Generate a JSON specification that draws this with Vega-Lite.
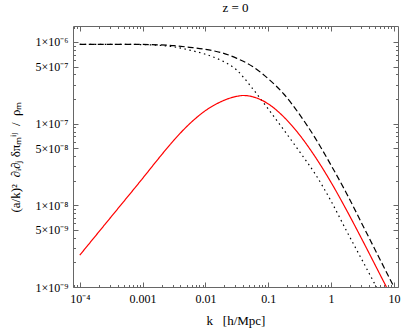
{
  "$schema": "https://vega.github.io/schema/vega-lite/v6.json",
  "width": 325,
  "height": 261,
  "autosize": {"type": "none"},
  "padding": {"left": 73, "top": 26, "right": 7, "bottom": 44},
  "title": {"text": "z = 0", "font": "Liberation Serif", "fontSize": 13, "fontWeight": "normal", "color": "black", "offset": 11, "anchor": "middle"},
  "config": {
    "view": {"stroke": "#666", "strokeWidth": 1},
    "axis": {"labelFont": "Liberation Serif", "titleFont": "Liberation Serif", "labelFontSize": 12, "titleFontSize": 13, "labelColor": "black", "titleColor": "black", "titleFontWeight": "normal", "domain": false, "grid": false, "tickColor": "#666", "tickWidth": 1, "labelFlush": false, "labelOverlap": false, "labelBound": false}
  },
  "data": {"values": [
    {"k": 0.0001, "v": 9.376e-7, "s": "dashed"},
    {"k": 0.00031623, "v": 9.376e-7, "s": "dashed"},
    {"k": 0.001, "v": 9.333e-7, "s": "dashed"},
    {"k": 0.0017783, "v": 9.226e-7, "s": "dashed"},
    {"k": 0.0031623, "v": 9.016e-7, "s": "dashed"},
    {"k": 0.0056234, "v": 8.61e-7, "s": "dashed"},
    {"k": 0.01, "v": 8.128e-7, "s": "dashed"},
    {"k": 0.017783, "v": 7.413e-7, "s": "dashed"},
    {"k": 0.031623, "v": 6.31e-7, "s": "dashed"},
    {"k": 0.056234, "v": 5.012e-7, "s": "dashed"},
    {"k": 0.1, "v": 3.548e-7, "s": "dashed"},
    {"k": 0.17783, "v": 2.291e-7, "s": "dashed"},
    {"k": 0.31623, "v": 1.288e-7, "s": "dashed"},
    {"k": 0.56234, "v": 6.607e-8, "s": "dashed"},
    {"k": 1, "v": 3.09e-8, "s": "dashed"},
    {"k": 1.7783, "v": 1.38e-8, "s": "dashed"},
    {"k": 3.1623, "v": 5.754e-9, "s": "dashed"},
    {"k": 5.6234, "v": 2.399e-9, "s": "dashed"},
    {"k": 10, "v": 1e-9, "s": "dashed"},
    {"k": 0.0001, "v": 9.376e-7, "s": "dotted"},
    {"k": 0.00031623, "v": 9.376e-7, "s": "dotted"},
    {"k": 0.001, "v": 9.29e-7, "s": "dotted"},
    {"k": 0.0017783, "v": 9.12e-7, "s": "dotted"},
    {"k": 0.0031623, "v": 8.71e-7, "s": "dotted"},
    {"k": 0.0056234, "v": 7.943e-7, "s": "dotted"},
    {"k": 0.01, "v": 7.079e-7, "s": "dotted"},
    {"k": 0.017783, "v": 5.957e-7, "s": "dotted"},
    {"k": 0.023714, "v": 5.309e-7, "s": "dotted"},
    {"k": 0.031623, "v": 4.519e-7, "s": "dotted"},
    {"k": 0.04217, "v": 3.548e-7, "s": "dotted"},
    {"k": 0.056234, "v": 2.692e-7, "s": "dotted"},
    {"k": 0.1, "v": 1.514e-7, "s": "dotted"},
    {"k": 0.17783, "v": 8.318e-8, "s": "dotted"},
    {"k": 0.31623, "v": 4.519e-8, "s": "dotted"},
    {"k": 0.56234, "v": 2.399e-8, "s": "dotted"},
    {"k": 1, "v": 1.122e-8, "s": "dotted"},
    {"k": 1.7783, "v": 4.786e-9, "s": "dotted"},
    {"k": 3.1623, "v": 2.089e-9, "s": "dotted"},
    {"k": 5.248, "v": 1e-9, "s": "dotted"},
    {"k": 0.0001, "v": 2.455e-9, "s": "red"},
    {"k": 0.00031623, "v": 7.244e-9, "s": "red"},
    {"k": 0.001, "v": 2.138e-8, "s": "red"},
    {"k": 0.0017783, "v": 3.715e-8, "s": "red"},
    {"k": 0.0031623, "v": 6.31e-8, "s": "red"},
    {"k": 0.0056234, "v": 1e-7, "s": "red"},
    {"k": 0.01, "v": 1.445e-7, "s": "red"},
    {"k": 0.017783, "v": 1.862e-7, "s": "red"},
    {"k": 0.031623, "v": 2.163e-7, "s": "red"},
    {"k": 0.039811, "v": 2.213e-7, "s": "red"},
    {"k": 0.056234, "v": 2.138e-7, "s": "red"},
    {"k": 0.1, "v": 1.746e-7, "s": "red"},
    {"k": 0.17783, "v": 1.202e-7, "s": "red"},
    {"k": 0.31623, "v": 7.244e-8, "s": "red"},
    {"k": 0.56234, "v": 3.89e-8, "s": "red"},
    {"k": 1, "v": 1.905e-8, "s": "red"},
    {"k": 1.7783, "v": 8.61e-9, "s": "red"},
    {"k": 3.1623, "v": 3.715e-9, "s": "red"},
    {"k": 5.6234, "v": 1.567e-9, "s": "red"},
    {"k": 7.586, "v": 1e-9, "s": "red"}
  ]},
  "resolve": {"axis": {"x": "independent", "y": "independent"}},
  "layer": [
    {
      "mark": {"type": "line", "clip": true, "interpolate": "monotone", "strokeWidth": 1.2, "strokeCap": "butt"},
      "encoding": {
        "x": {"field": "k", "type": "quantitative", "scale": {"type": "log", "domain": [7.8e-5, 11.6], "nice": false},
          "axis": {"orient": "bottom", "ticks": false, "labelPadding": 6, "values": [0.0001, 0.001, 0.01, 0.1, 1, 10],
            "labelExpr": "datum.value < 0.0005 ? '10⁻⁴' : datum.value < 0.005 ? '0.001' : datum.value < 0.05 ? '0.01' : datum.value < 0.5 ? '0.1' : datum.value < 5 ? '1' : '10'",
            "title": "k\u00a0\u00a0\u00a0[h/Mpc]", "titlePadding": 10}},
        "y": {"field": "v", "type": "quantitative", "scale": {"type": "log", "domain": [1e-9, 1.57e-6], "nice": false},
          "axis": {"orient": "left", "ticks": false, "labelPadding": 5, "values": [1e-9, 5e-9, 1e-8, 5e-8, 1e-7, 5e-7, 1e-6],
            "labelExpr": "datum.value == 1e-6 ? '1×10⁻⁶' : datum.value == 5e-7 ? '5×10⁻⁷' : datum.value == 1e-7 ? '1×10⁻⁷' : datum.value == 5e-8 ? '5×10⁻⁸' : datum.value == 1e-8 ? '1×10⁻⁸' : datum.value == 5e-9 ? '5×10⁻⁹' : '1×10⁻⁹'",
            "title": "(a/k)²\u00a0\u00a0∂ᵢ∂ⱼ\u00a0δπₘⁱʲ\u00a0\u00a0/\u00a0\u00a0ρₘ", "titlePadding": 13}},
        "color": {"field": "s", "type": "nominal", "scale": {"domain": ["dashed", "dotted", "red"], "range": ["#000000", "#000000", "#ff0000"]}, "legend": null},
        "strokeDash": {"field": "s", "type": "nominal", "scale": {"domain": ["dashed", "dotted", "red"], "range": [[6, 3], [1.5, 3.5], [1, 0]]}, "legend": null}
      }
    },
    {
      "mark": {"type": "point", "opacity": 0},
      "encoding": {
        "x": {"field": "k", "type": "quantitative", "scale": {"type": "log", "domain": [7.8e-5, 11.6], "nice": false},
          "axis": {"orient": "bottom", "labels": false, "tickSize": -5, "values": [0.0001, 0.001, 0.01, 0.1, 1, 10], "title": null}},
        "y": {"field": "v", "type": "quantitative", "scale": {"type": "log", "domain": [1e-9, 1.57e-6], "nice": false},
          "axis": {"orient": "left", "labels": false, "tickSize": -5, "values": [1e-9, 5e-9, 1e-8, 5e-8, 1e-7, 5e-7, 1e-6], "title": null}}
      }
    },
    {
      "mark": {"type": "point", "opacity": 0},
      "encoding": {
        "x": {"field": "k", "type": "quantitative", "scale": {"type": "log", "domain": [7.8e-5, 11.6], "nice": false},
          "axis": {"orient": "bottom", "labels": false, "tickSize": -2.5, "values": [8e-5, 9e-5, 0.0002, 0.0003, 0.0004, 0.0005, 0.0006, 0.0007, 0.0008, 0.0009, 0.002, 0.003, 0.004, 0.005, 0.006, 0.007, 0.008, 0.009, 0.02, 0.03, 0.04, 0.05, 0.06, 0.07, 0.08, 0.09, 0.2, 0.3, 0.4, 0.5, 0.6, 0.7, 0.8, 0.9, 2, 3, 4, 5, 6, 7, 8, 9], "title": null}},
        "y": {"field": "v", "type": "quantitative", "scale": {"type": "log", "domain": [1e-9, 1.57e-6], "nice": false},
          "axis": {"orient": "left", "labels": false, "tickSize": -2.5, "values": [2e-9, 3e-9, 4e-9, 6e-9, 7e-9, 8e-9, 9e-9, 2e-8, 3e-8, 4e-8, 6e-8, 7e-8, 8e-8, 9e-8, 2e-7, 3e-7, 4e-7, 6e-7, 7e-7, 8e-7, 9e-7], "title": null}}
      }
    },
    {
      "mark": {"type": "point", "opacity": 0},
      "encoding": {
        "x": {"field": "k", "type": "quantitative", "scale": {"type": "log", "domain": [7.8e-5, 11.6], "nice": false},
          "axis": {"orient": "top", "labels": false, "tickSize": -5, "values": [0.0001, 0.001, 0.01, 0.1, 1, 10], "title": null}},
        "y": {"field": "v", "type": "quantitative", "scale": {"type": "log", "domain": [1e-9, 1.57e-6], "nice": false},
          "axis": {"orient": "right", "labels": false, "tickSize": -5, "values": [1e-9, 5e-9, 1e-8, 5e-8, 1e-7, 5e-7, 1e-6], "title": null}}
      }
    },
    {
      "mark": {"type": "point", "opacity": 0},
      "encoding": {
        "x": {"field": "k", "type": "quantitative", "scale": {"type": "log", "domain": [7.8e-5, 11.6], "nice": false},
          "axis": {"orient": "top", "labels": false, "tickSize": -2.5, "values": [8e-5, 9e-5, 0.0002, 0.0003, 0.0004, 0.0005, 0.0006, 0.0007, 0.0008, 0.0009, 0.002, 0.003, 0.004, 0.005, 0.006, 0.007, 0.008, 0.009, 0.02, 0.03, 0.04, 0.05, 0.06, 0.07, 0.08, 0.09, 0.2, 0.3, 0.4, 0.5, 0.6, 0.7, 0.8, 0.9, 2, 3, 4, 5, 6, 7, 8, 9], "title": null}},
        "y": {"field": "v", "type": "quantitative", "scale": {"type": "log", "domain": [1e-9, 1.57e-6], "nice": false},
          "axis": {"orient": "right", "labels": false, "tickSize": -2.5, "values": [2e-9, 3e-9, 4e-9, 6e-9, 7e-9, 8e-9, 9e-9, 2e-8, 3e-8, 4e-8, 6e-8, 7e-8, 8e-8, 9e-8, 2e-7, 3e-7, 4e-7, 6e-7, 7e-7, 8e-7, 9e-7], "title": null}}
      }
    }
  ]
}
